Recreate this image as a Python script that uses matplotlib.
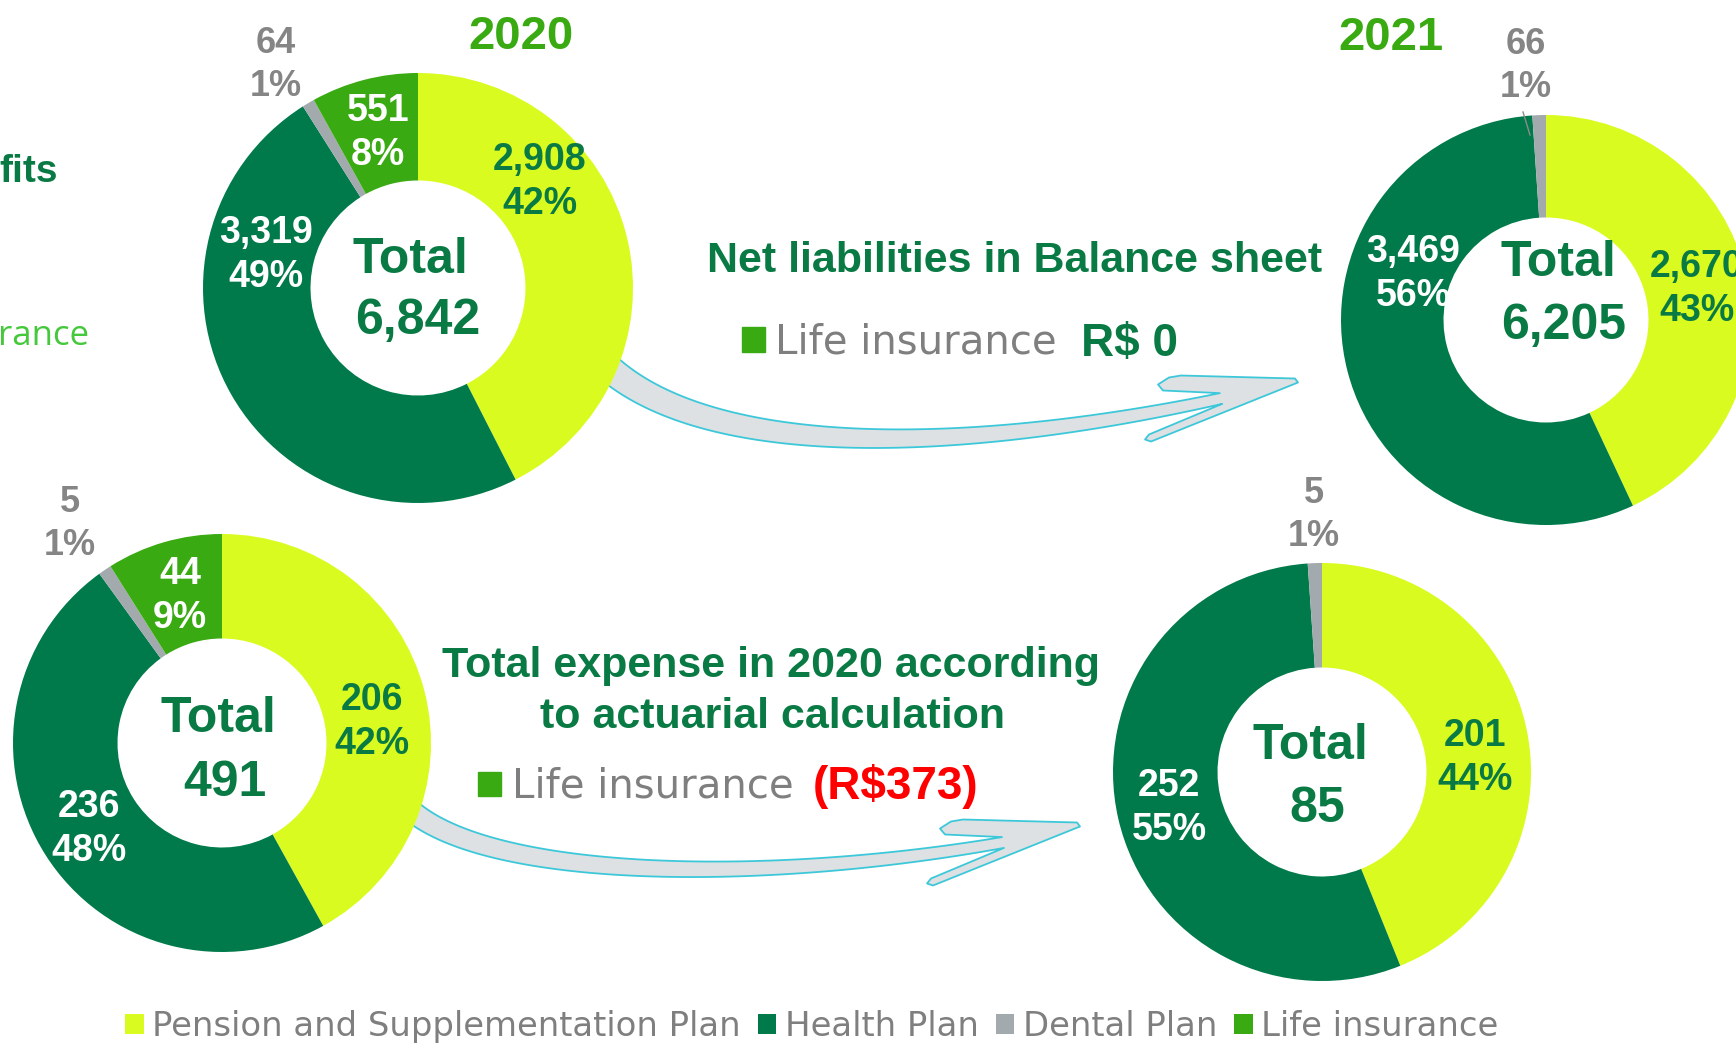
import numpy as np
import matplotlib
matplotlib.use("Agg")
import matplotlib.pyplot as plt
from matplotlib.patches import Polygon, Rectangle

W, H = 1736, 1043

# ---- data ----
categories = ["Pension and Supplementation Plan", "Health Plan", "Dental Plan", "Life insurance"]

liab_2020 = [2908, 3319, 64, 551]
liab_2020_pct = [42, 49, 1, 8]
liab_2021 = [2670, 3469, 66, 0]
liab_2021_pct = [43, 56, 1, 0]

exp_2020 = [206, 236, 5, 44]
exp_2020_pct = [42, 48, 1, 9]
exp_2021 = [201, 252, 5, 0]
exp_2021_pct = [44, 55, 1, 0]

total_labels = ["6,842", "6,205", "491", "85"]

colors = ["#DAFB1F", "#007A4A", "#A2AAAE", "#3AAA12"]
label_colors = ["#0A7A45", "white", "#858585", "white"]
DARK = "#0A7A45"
GRAY = "#7F7F7F"

# ---- layout (image pixel coords, y down) ----
charts = [
    dict(values=liab_2020, pct=liab_2020_pct, total=total_labels[0], center=(418, 288), r=215,
         labels=[(540, 182), (266, 255), (276, 65), (378, 133)],
         total_pos=[(410, 273), (418, 334)]),
    dict(values=liab_2021, pct=liab_2021_pct, total=total_labels[1], center=(1546, 320), r=205,
         labels=[(1697, 289), (1413, 274), (1526, 66), None],
         total_pos=[(1558, 276), (1564, 339)]),
    dict(values=exp_2020, pct=exp_2020_pct, total=total_labels[2], center=(222, 743), r=209,
         labels=[(372, 722), (89, 829), (70, 524), (180, 596)],
         total_pos=[(218, 732), (225, 796)]),
    dict(values=exp_2021, pct=exp_2021_pct, total=total_labels[3], center=(1322, 772), r=209,
         labels=[(1475, 758), (1169, 808), (1314, 515), None],
         total_pos=[(1310, 759), (1317, 822)]),
]


def Y(y):
    return H - y


def curved_arrow(ax, p0, p1, p2, p3, w0, w1, head):
    t = np.linspace(0, 1, 80)[:, None]
    P = [np.array(p, float) for p in (p0, p1, p2, p3)]
    c = (1 - t) ** 3 * P[0] + 3 * (1 - t) ** 2 * t * P[1] + 3 * (1 - t) * t ** 2 * P[2] + t ** 3 * P[3]
    d = 3 * (1 - t) ** 2 * (P[1] - P[0]) + 6 * (1 - t) * t * (P[2] - P[1]) + 3 * t ** 2 * (P[3] - P[2])
    d /= np.linalg.norm(d, axis=1, keepdims=True)
    n = np.column_stack([d[:, 1], -d[:, 0]])
    w = (w0 + (w1 - w0) * t) / 2
    upper = c + n * w
    lower = c - n * w
    head_pts = P[3] + np.array(head, float)
    outline = np.vstack([upper, head_pts, lower[::-1]])
    outline[:, 1] = H - outline[:, 1]
    ax.add_patch(Polygon(outline, closed=True, facecolor="#DDE1E4", edgecolor="#3DC8DA",
                         linewidth=1.3, joinstyle="round", zorder=0.5))


HEAD = [(-58, -8), (-63, -14), (-52, -21), (-40, -23), (74, -20), (77, -16),
        (-70, 43), (-76, 41), (-72, 36)]

fig = plt.figure(figsize=(W / 100, H / 100), dpi=100)
ax = fig.add_axes([0, 0, 1, 1])

legend_handles = None
for ch in charts:
    cx, cy = ch["center"]
    r = ch["r"]
    wedges, _ = ax.pie(ch["values"], colors=colors, startangle=90, counterclock=False,
                       radius=r, center=(cx, Y(cy)),
                       wedgeprops=dict(width=0.5 * r, linewidth=0))
    for w in wedges:
        w.set_zorder(2)
    if legend_handles is None:
        legend_handles = wedges
    for i, pos in enumerate(ch["labels"]):
        if pos is None or ch["values"][i] == 0:
            continue
        ax.text(pos[0], Y(pos[1]), f"{ch['values'][i]:,}\n{ch['pct'][i]}%",
                ha="center", va="center", multialignment="center", linespacing=1.28,
                fontsize=26 if i == 2 else 27, fontweight="bold", family="Liberation Sans",
                color=label_colors[i], zorder=5)
    (tx, ty), (nx, ny) = ch["total_pos"]
    ax.text(tx, Y(ty), "Total", ha="center", va="baseline", fontsize=36,
            fontweight="bold", family="Liberation Sans", color=DARK, zorder=5)
    ax.text(nx, Y(ny), ch["total"], ha="center", va="baseline", fontsize=36,
            fontweight="bold", family="Liberation Sans", color=DARK, zorder=5)

# leader line for the small dental slice in 2021
ax.plot([1523, 1530], [Y(112), Y(135)], color="#8C8C8C", lw=1, zorder=3)

# arrows
curved_arrow(ax, (600, 360), (700, 460), (960, 455), (1221, 398.5), 28, 11, HEAD)
curved_arrow(ax, (405, 805), (480, 880), (760, 885), (1003, 842.5), 22, 11, HEAD)

# titles and notes
ax.text(521, Y(49), "2020", ha="center", va="baseline", fontsize=34, fontweight="bold",
        family="Liberation Sans", color="#3AAA12")
ax.text(1391, Y(50), "2021", ha="center", va="baseline", fontsize=34, fontweight="bold",
        family="Liberation Sans", color="#3AAA12")
ax.text(58, Y(182), "fits", ha="right", va="baseline", fontsize=28, fontweight="bold",
        family="Liberation Sans", color=DARK)
ax.text(89, Y(345), "rance", ha="right", va="baseline", fontsize=25,
        family="Open Sans", color="#45C83C")

ax.text(1015, Y(272), "Net liabilities in Balance sheet", ha="center", va="baseline",
        fontsize=31, fontweight="bold", family="Liberation Sans", color=DARK)
ax.add_patch(Rectangle((742, Y(352)), 23, 25, color="#3AAA12", zorder=3))
ax.text(775, Y(353), "Life insurance", ha="left", va="baseline", fontsize=29,
        family="DejaVu Sans", color=GRAY)
ax.text(1081, Y(356), "R$ 0", ha="left", va="baseline", fontsize=33, fontweight="bold",
        family="Liberation Sans", color=DARK)

ax.text(771, Y(677), "Total expense in 2020 according", ha="center", va="baseline",
        fontsize=31, fontweight="bold", family="Liberation Sans", color=DARK)
ax.text(772, Y(728), "to actuarial calculation", ha="center", va="baseline",
        fontsize=31, fontweight="bold", family="Liberation Sans", color=DARK)
ax.add_patch(Rectangle((478, Y(796)), 23, 24, color="#3AAA12", zorder=3))
ax.text(512, Y(797), "Life insurance", ha="left", va="baseline", fontsize=29,
        family="DejaVu Sans", color=GRAY)
ax.text(813, Y(799), "(R$373)", ha="left", va="baseline", fontsize=33, fontweight="bold",
        family="Liberation Sans", color="#FF0000")

ax.set_xlim(0, W)
ax.set_ylim(0, H)
ax.set_aspect("equal")
ax.axis("off")

fig.legend(handles=legend_handles, labels=categories, loc="lower left",
           bbox_to_anchor=(125 / W, 0.0), ncol=4, frameon=False,
           prop=dict(family="DejaVu Sans", size=24.4), labelcolor=GRAY,
           handlelength=0.55, handleheight=0.55, handletextpad=0.25,
           columnspacing=0.5, borderpad=0, borderaxespad=0)

fig.savefig("out.png", dpi=100)
